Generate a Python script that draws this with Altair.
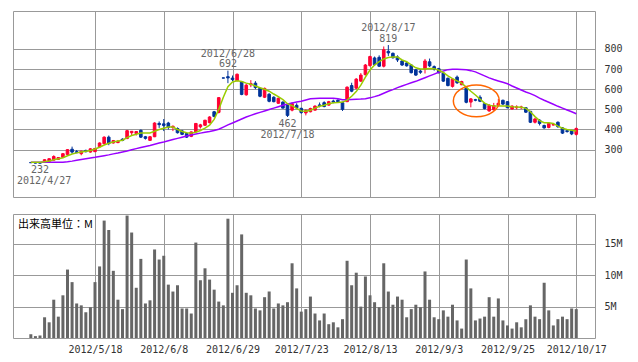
import altair as alt
import pandas as pd

# ---------------- data ----------------
opens = [236, 236, 235, 240, 242, 248, 252, 262, 276, 302,
         290, 280, 296, 288, 290, 314, 330, 362, 333, 335,
         352, 355, 384, 380, 396, 364, 346, 364, 430, 428,
         432, 410, 405, 393, 380, 366, 388, 413, 421, 434,
         488, 485, 656, 662, 655, 642, 638, 572, 622, 630,
         604, 560, 575, 560, 530, 536, 520, 496, 520, 505,
         482, 488, 496, 522, 533, 521, 541, 545, 533, 538,
         618, 605, 640, 672, 717, 755, 758, 714, 788, 778,
         760, 740, 730, 720, 696, 690, 700, 736, 712, 702,
         680, 654, 614, 660, 622, 605, 536, 548, 560, 528,
         492, 498, 520, 545, 538, 502, 508, 508, 508, 490,
         436, 446, 420, 410, 422, 436, 408, 394, 394, 376]
highs = [238, 237, 236, 252, 256, 272, 263, 282, 302, 315,
         298, 295, 300, 307, 308, 336, 366, 370, 348, 348,
         356, 398, 392, 392, 400, 368, 368, 436, 440, 452,
         438, 420, 410, 398, 386, 390, 432, 428, 448, 466,
         492, 560, 657, 692, 668, 678, 640, 628, 645, 640,
         608, 608, 580, 565, 558, 540, 524, 535, 530, 508,
         500, 508, 520, 534, 540, 542, 548, 550, 538, 614,
         632, 655, 680, 725, 766, 762, 768, 812, 819, 782,
         768, 745, 736, 724, 700, 698, 750, 752, 718, 706,
         684, 658, 654, 668, 642, 608, 556, 552, 570, 532,
         526, 532, 552, 548, 540, 520, 520, 518, 510, 492,
         458, 452, 424, 434, 428, 440, 412, 398, 398, 410]
lows = [234, 232, 232, 238, 240, 246, 250, 258, 274, 280,
        282, 272, 286, 285, 288, 312, 326, 322, 330, 332,
        342, 352, 370, 370, 358, 350, 344, 362, 408, 392,
        400, 392, 380, 372, 358, 362, 386, 405, 418, 430,
        460, 480, 654, 630, 640, 640, 570, 568, 610, 600,
        560, 556, 535, 535, 528, 505, 462, 490, 505, 478,
        470, 485, 494, 510, 510, 518, 530, 532, 492, 536,
        585, 600, 636, 668, 712, 715, 710, 708, 765, 752,
        735, 715, 712, 678, 666, 676, 678, 710, 692, 678,
        636, 614, 608, 626, 620, 530, 510, 540, 536, 500,
        488, 494, 515, 522, 505, 498, 500, 502, 482, 432,
        430, 420, 404, 406, 420, 408, 378, 384, 372, 370]
closes = [235, 233, 233, 250, 255, 266, 261, 280, 300, 288,
          285, 292, 290, 304, 306, 333, 362, 330, 345, 342,
          346, 394, 391, 390, 362, 356, 364, 432, 424, 420,
          410, 416, 384, 376, 362, 388, 430, 423, 446, 462,
          465, 558, 655, 656, 648, 674, 574, 620, 628, 608,
          565, 604, 540, 538, 555, 506, 470, 528, 508, 484,
          494, 504, 516, 518, 514, 538, 536, 538, 500, 610,
          590, 650, 670, 720, 762, 722, 714, 796, 780, 756,
          745, 720, 716, 682, 670, 684, 740, 716, 700, 682,
          640, 618, 650, 632, 638, 535, 552, 545, 540, 504,
          520, 518, 530, 526, 508, 516, 512, 512, 486, 436,
          452, 430, 408, 430, 425, 414, 382, 390, 378, 405]
volumes_m = [0.6, 0.3, 0.4, 3.3, 2.5, 6.1, 3.4, 6.8, 10.9, 8.9,
             5.5, 5.2, 4.1, 4.9, 8.9, 11.4, 18.7, 17.2, 10.7, 6.1,
             4.6, 19.5, 16.8, 8.0, 12.6, 5.5, 6.0, 14.1, 12.5, 13.1,
             8.5, 7.4, 8.4, 4.7, 4.7, 3.9, 15.2, 9.2, 11.1, 9.3,
             7.7, 5.8, 5.2, 19.0, 7.2, 8.4, 16.5, 7.2, 6.8, 4.7,
             4.4, 6.5, 7.4, 4.7, 5.5, 5.2, 5.7, 11.9, 7.9, 4.2,
             4.6, 6.6, 3.9, 2.8, 3.9, 2.2, 2.5, 1.7, 3.0, 12.3,
             8.4, 10.4, 5.0, 9.8, 6.8, 5.7, 4.9, 11.9, 7.4, 5.3,
             6.6, 6.1, 3.3, 4.6, 5.3, 4.9, 10.6, 6.1, 3.3, 3.0,
             4.4, 3.4, 5.3, 2.8, 1.5, 12.5, 7.9, 2.8, 3.1, 3.4,
             6.5, 3.4, 6.3, 2.8, 2.0, 1.5, 2.5, 1.7, 3.0, 5.2,
             3.4, 3.0, 8.8, 4.4, 2.0, 3.0, 3.4, 3.0, 4.7, 4.6]
ma_short = [238, 238, 238, 240, 244, 250, 255, 260, 270, 278,
            284, 288, 292, 296, 303, 312, 323, 332, 338, 343,
            347, 360, 370, 376, 382, 383, 383, 391, 400, 406,
            412, 412, 400, 390, 384, 382, 386, 395, 407, 421,
            450, 500, 560, 612, 636, 642, 638, 630, 625, 616,
            607, 600, 590, 576, 563, 548, 528, 518, 505, 492,
            490, 495, 506, 515, 520, 528, 533, 534, 536, 546,
            565, 588, 620, 660, 695, 720, 737, 750, 757, 760,
            760, 745, 736, 721, 706, 700, 700, 703, 702, 694,
            683, 666, 652, 641, 630, 610, 590, 571, 551, 531,
            521, 516, 516, 516, 516, 513, 512, 510, 505, 488,
            464, 444, 434, 433, 430, 417, 406, 400, 396, 393]
ma_long = [238, 238, 238, 238, 238, 238, 238, 238, 240, 243,
           247, 251, 255, 259, 262, 266, 270, 274, 279, 283,
           288, 293, 299, 305, 311, 316, 321, 327, 333, 338,
           344, 350, 356, 362, 368, 373, 378, 382, 386, 390,
           395, 401, 412, 423, 432, 442, 452, 462, 470, 478,
           485, 492, 499, 506, 513, 520, 526, 531, 536, 540,
           546, 552, 554, 555, 555, 555, 555, 552, 548, 548,
           549, 550, 551, 553, 557, 563, 570, 580, 590, 598,
           608, 616, 624, 632, 639, 648, 657, 666, 675, 684,
           690, 697, 699, 699, 698, 696, 692, 686, 676, 666,
           656, 648, 641, 634, 627, 616, 606, 596, 586, 578,
           568, 556, 545, 535, 525, 515, 506, 497, 488, 478]

tick_idx = [14, 29, 44, 59, 74, 89, 104, 119]
tick_labels = ["2012/5/18", "2012/6/8", "2012/6/29", "2012/7/23",
               "2012/8/13", "2012/9/3", "2012/9/25", "2012/10/17"]
price_ticks = [300, 400, 500, 600, 700, 800]
vol_ticks = [5, 10, 15]
unit_label = ["出来高単位：M"]

ann_idx = [2, 2.9, 43, 43, 56, 56, 78, 78]
ann_price = [232, 232, 692, 692, 462, 462, 819, 819]
ann_text = ["232", "2012/4/27", "692", "2012/6/28", "462", "2012/7/18", "819", "2012/8/17"]
ann_pos = ["below1", "below2", "above1", "above2", "below1", "below2", "above1", "above2"]

circle_idx = [97.2]
circle_price = [542]

# ---------------- styling ----------------
RED = "#ff0033"
BLUE = "#003399"
GREEN = "#99cc00"
PURPLE = "#9900ff"
ORANGE = "#ff6600"
GRID = "#999999"
MONO = "DejaVu Sans Mono"

df = pd.DataFrame({
    "i": list(range(len(closes))),
    "open": opens, "high": highs, "low": lows, "close": closes,
    "vol": volumes_m, "ma_s": ma_short, "ma_l": ma_long,
})
df["dir"] = ["up" if c >= o else "down" for o, c in zip(opens, closes)]

xscale = alt.Scale(domain=[-2.8, 122.0], nice=False, zero=False)
px_axis = alt.Axis(values=tick_idx, grid=True, labels=False, ticks=False,
                   domain=False, title=None)
pyscale = alt.Scale(domain=[65, 988], nice=False, zero=False)
py_axis = alt.Axis(values=price_ticks, orient="right", grid=True, ticks=False,
                   domain=False, title=None, labelPadding=9)


def PX():
    return alt.X("i:Q", scale=xscale, axis=px_axis)


def PY(field):
    return alt.Y(field, scale=pyscale, axis=py_axis)


dir_scale = alt.Scale(domain=["up", "down"], range=[RED, BLUE])

base = alt.Chart(df)
wicks = base.mark_rule(strokeWidth=1).encode(
    x=PX(), y=PY("low:Q"), y2="high:Q",
    color=alt.Color("dir:N", scale=dir_scale, legend=None))
bodies = base.mark_bar(size=2.6, strokeWidth=1).encode(
    x=PX(), y=PY("open:Q"), y2="close:Q",
    color=alt.Color("dir:N", scale=dir_scale, legend=None),
    stroke=alt.Stroke("dir:N", scale=dir_scale, legend=None))
line_l = base.mark_line(color=PURPLE, strokeWidth=1.5).encode(x=PX(), y=PY("ma_l:Q"))
line_s = base.mark_line(color=GREEN, strokeWidth=1.5).encode(x=PX(), y=PY("ma_s:Q"))

ell_path = ("M-1,0C-1,-0.381,-0.552,-0.69,0,-0.69C0.552,-0.69,1,-0.381,1,0"
            "C1,0.381,0.552,0.69,0,0.69C-0.552,0.69,-1,0.381,-1,0Z")
circ = alt.Chart(pd.DataFrame({"i": circle_idx, "p": circle_price})).mark_point(
    shape=ell_path, size=2116, filled=False, color=ORANGE, strokeWidth=1.5, opacity=1
).encode(x=PX(), y=PY("p:Q"))

ann = pd.DataFrame({"i": ann_idx, "p": ann_price, "label": ann_text, "pos": ann_pos})
ann_layers = []
for pos, dy, bl in [("above1", -3.5, "alphabetic"), ("above2", -14, "alphabetic"),
                    ("below1", 2, "top"), ("below2", 13, "top")]:
    ann_layers.append(
        alt.Chart(ann).transform_filter(alt.datum.pos == pos).mark_text(
            dy=dy, baseline=bl, font=MONO, fontSize=10, color="#666666"
        ).encode(x=PX(), y=PY("p:Q"), text="label:N"))

price = alt.layer(wicks, bodies, line_l, line_s, circ, *ann_layers).properties(
    width=582, height=186)

label_expr = "[" + ",".join("'%s'" % t for t in tick_labels) + "][indexof([" + \
    ",".join(str(v) for v in tick_idx) + "], datum.value)]"
vx_axis = alt.Axis(values=tick_idx, grid=True, ticks=False, domain=False, title=None,
                   labelExpr=label_expr, labelPadding=6, labelFlush=False)
vy_axis = alt.Axis(values=vol_ticks, orient="right", grid=True, ticks=False,
                   domain=False, title=None, labelPadding=9,
                   labelExpr="datum.value + 'M'")
vol_bars = alt.Chart(df).mark_bar(size=3, color="#666666").encode(
    x=alt.X("i:Q", scale=xscale, axis=vx_axis),
    y=alt.Y("vol:Q", scale=alt.Scale(domain=[0, 19.75], nice=False), axis=vy_axis))
unit_text = alt.Chart(pd.DataFrame({"t": unit_label})).mark_text(
    align="left", baseline="top", font="Noto Sans CJK JP", fontSize=11, color="#000000"
).encode(x=alt.value(5), y=alt.value(5), text="t:N")

volume = alt.layer(vol_bars, unit_text).properties(width=582, height=124)

chart = alt.vconcat(price, volume, spacing=15).properties(
    padding={"left": 4, "top": 2, "right": 5, "bottom": 5},
    background="white",
).configure_view(stroke=GRID, strokeWidth=1).configure_axis(
    gridColor=GRID, gridOpacity=1, gridWidth=1,
    labelFont=MONO, labelFontSize=10, labelColor="#333333")

chart.save("out.html", embed_options={"renderer": "svg", "actions": False})
